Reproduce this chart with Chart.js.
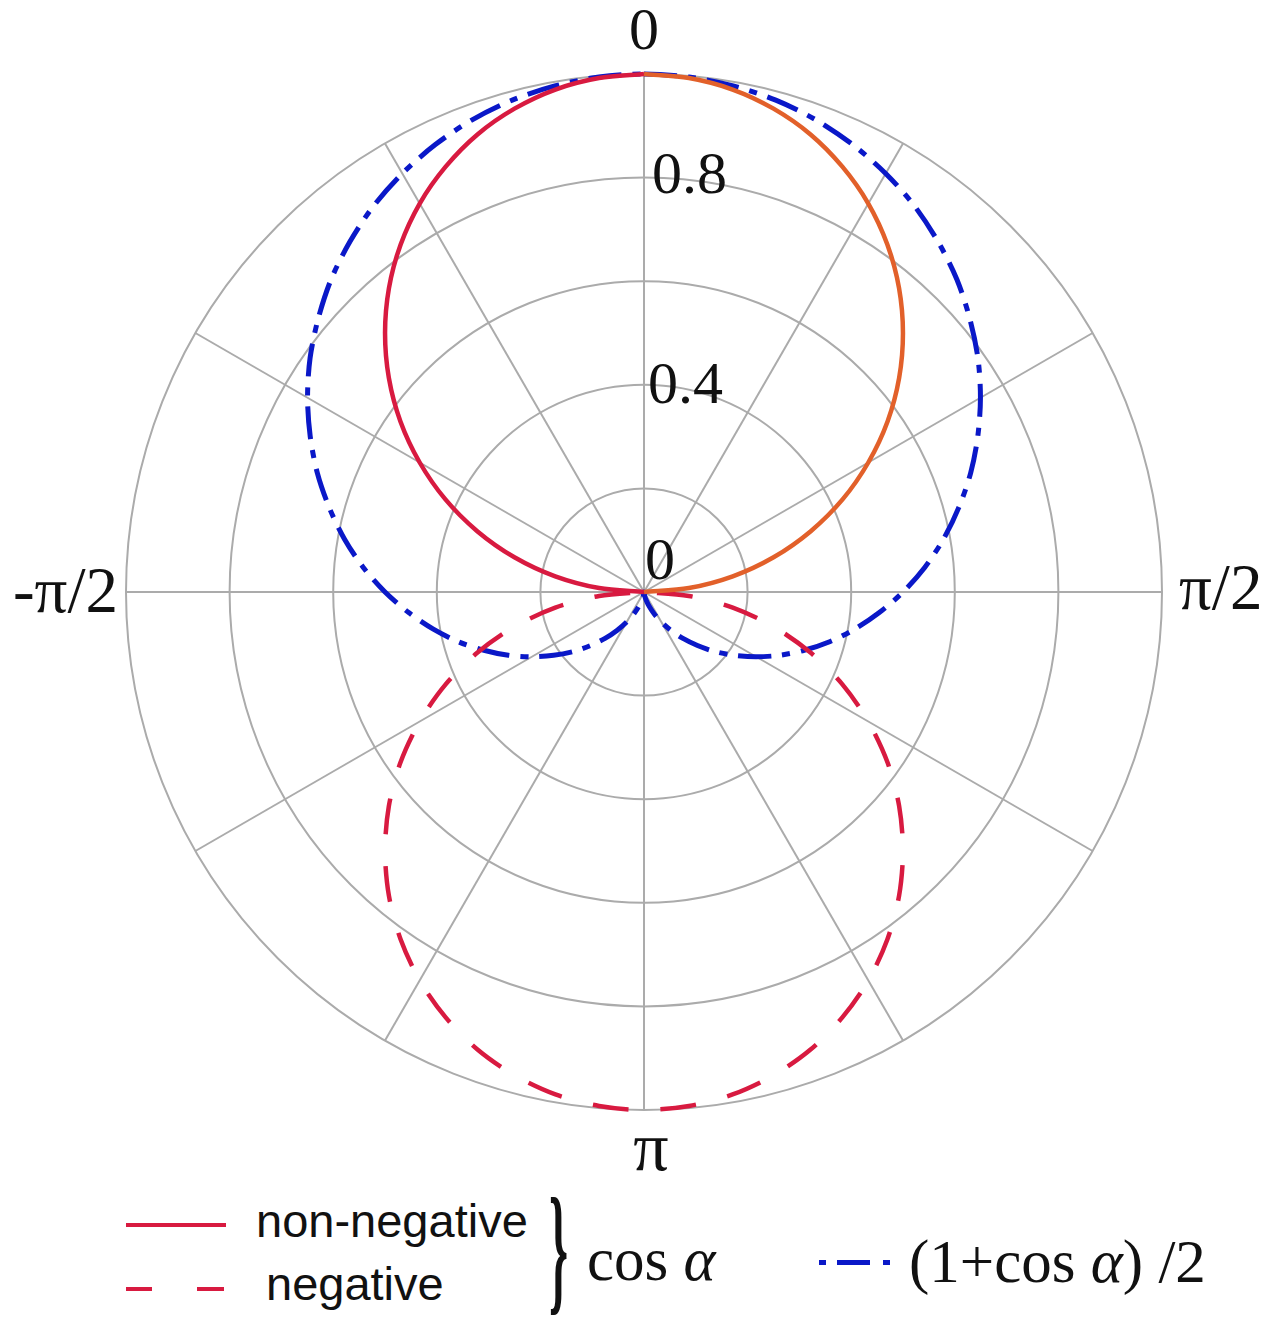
<!DOCTYPE html>
<html>
<head>
<meta charset="utf-8">
<script src="https://cdn.jsdelivr.net/npm/chart.js@4.4.1/dist/chart.umd.min.js"></script>
<style>
  html, body { margin: 0; padding: 0; background: #fff; }
  #wrap { position: relative; width: 1284px; height: 1323px; overflow: hidden; }
  #polar { position: absolute; left: 0; top: 0; }
  .key { position: absolute; white-space: nowrap; line-height: 1; color: #111; }
  .sans { font-family: "Liberation Sans", Arial, sans-serif; font-size: 47px; }
  .serif { font-family: "Liberation Serif", "Times New Roman", serif; font-size: 61px; }
  .swatch { position: absolute; height: 4px; }
  .red { background: #d81a40; }
  .blue { background: #0a18c8; height: 5px; }
</style>
</head>
<body>
<div id="wrap">
  <canvas id="polar" width="1284" height="1180"></canvas>

  <!-- legend -->
  <div class="swatch red" style="left:126px; top:1223px; width:100px;"></div>
  <div class="key sans" style="left:256px; top:1197px;">non-negative</div>
  <div class="swatch red" style="left:126px; top:1287px; width:26px;"></div>
  <div class="swatch red" style="left:197px; top:1287px; width:27px;"></div>
  <div class="key sans" style="left:266px; top:1260px;">negative</div>
  <div class="key serif" style="left:549px; top:1177px; font-size:142px; font-weight:bold; transform:scaleX(0.34); transform-origin:0 0;">}</div>
  <div class="key serif" style="left:587px; top:1229px;">cos <i>α</i></div>
  <div class="swatch blue" style="left:819px; top:1260px; width:7px;"></div>
  <div class="swatch blue" style="left:837px; top:1260px; width:33px;"></div>
  <div class="swatch blue" style="left:883px; top:1260px; width:7px;"></div>
  <div class="key serif" style="left:909px; top:1231px;">(1+cos <i>α</i>) /2</div>
</div>

<script>
// Angle categories in degrees, clockwise from the top
const angleDeg = [
    0, 5, 10, 15, 20, 25, 30, 35, 40, 45, 50, 55,
    60, 65, 70, 75, 80, 85, 90, 95, 100, 105, 110, 115,
    120, 125, 130, 135, 140, 145, 150, 155, 160, 165, 170, 175,
    180, 185, 190, 195, 200, 205, 210, 215, 220, 225, 230, 235,
    240, 245, 250, 255, 260, 265, 270, 275, 280, 285, 290, 295,
    300, 305, 310, 315, 320, 325, 330, 335, 340, 345, 350, 355
];

// cos α, non-negative part, right side (0 .. 90 deg)
const nonNegRight = [1, .996, .985, .966, .940, .906, .866, .819, .766, .707, .643, .574, .500, .423, .342, .259, .174, .087, 0];
// cos α, non-negative part, left side (270 .. 355 deg, then closes at 0)
const nonNegLeft = [0, .087, .174, .259, .342, .423, .500, .574, .643, .707, .766, .819, .866, .906, .940, .966, .985, .996];
// |cos α| where cos α is negative (90 .. 270 deg)
const negative = [0, .087, .174, .259, .342, .423, .500, .574, .643, .707, .766, .819, .866, .906, .940, .966, .985, .996,
    1, .996, .985, .966, .940, .906, .866, .819, .766, .707, .643, .574, .500, .423, .342, .259, .174, .087, 0];
// (1 + cos α) / 2 over the full turn
const halfCos = [
    1, .998, .992, .983, .970, .953, .933, .910, .883, .854, .821, .787,
    .750, .711, .671, .629, .587, .544, .500, .456, .413, .371, .329, .289,
    .250, .213, .179, .146, .117, .090, .067, .047, .030, .017, .008, .002,
    0, .002, .008, .017, .030, .047, .067, .090, .117, .146, .179, .213,
    .250, .289, .329, .371, .413, .456, .500, .544, .587, .629, .671, .711,
    .750, .787, .821, .854, .883, .910, .933, .953, .970, .983, .992, .998
];

// Radial tick text and the angle labels
const radialTicks = [0, 0.4, 0.8];
const radialTickText = ['0', '0.4', '0.8'];
const angleLabelText = { 0: '0', 18: 'π/2', 36: 'π', 54: '-π/2' };

// put a run of values into a full-turn array, gaps elsewhere
function placeAt(start, values) {
    const out = new Array(angleDeg.length).fill(null);
    values.forEach((v, i) => { out[(start + i) % angleDeg.length] = v; });
    return out;
}

const leftSeries = placeAt(54, nonNegLeft);
leftSeries[0] = nonNegRight[0];

// Text on the chart: radial values along the top spoke, angle names outside
const axisText = {
    id: 'axisText',
    afterDraw(chart) {
        const r = chart.scales.r;
        const c = chart.ctx;
        c.save();
        c.fillStyle = '#111';
        c.font = '60px "Liberation Serif", "Times New Roman", serif';

        c.textAlign = 'left';
        c.textBaseline = 'middle';
        const nudge = { '0': [1, -29], '0.4': [4, 2], '0.8': [8, 0] };
        radialTicks.forEach((v, i) => {
            const p = r.getPointPositionForValue(0, v);
            const n = nudge[radialTickText[i]];
            c.fillText(radialTickText[i], p.x + n[0], p.y + n[1]);
        });

        Object.keys(angleLabelText).forEach(k => {
            const idx = Number(k);
            const p = r.getPointPositionForValue(idx, 1);
            const text = angleLabelText[k];
            c.font = (idx === 0 ? '60px' : idx === 36 ? '70px' : '65px') + ' "Liberation Serif", "Times New Roman", serif';
            if (idx === 0) {
                c.textAlign = 'center';
                c.fillText(text, p.x, p.y - 41);
            } else if (idx === 18) {
                c.textAlign = 'left';
                c.fillText(text, p.x + 17, p.y);
            } else if (idx === 36) {
                c.textAlign = 'center';
                c.fillText(text, p.x + 7, p.y + 42);
            } else {
                c.textAlign = 'right';
                c.fillText(text, p.x - 8, p.y + 3);
            }
        });
        c.restore();
    }
};

const gridColor = '#ababab';

new Chart(document.getElementById('polar'), {
    type: 'radar',
    data: {
        labels: angleDeg,
        datasets: [
            {
                label: 'non-negative (right)',
                data: placeAt(0, nonNegRight),
                borderColor: '#e2602a',
                borderWidth: 4.5,
                fill: false,
                clip: 10
            },
            {
                label: 'non-negative',
                data: leftSeries,
                borderColor: '#d81a40',
                borderWidth: 4.5,
                fill: false,
                clip: 10
            },
            {
                label: 'negative',
                data: placeAt(18, negative),
                borderColor: '#d81a40',
                borderWidth: 4.5,
                borderDash: [36, 32],
                borderDashOffset: 55,
                fill: false,
                clip: 10
            },
            {
                label: '(1+cos α) /2',
                data: halfCos,
                borderColor: '#0a18c8',
                borderWidth: 5,
                borderDash: [33, 11, 8, 11],
                fill: false,
                clip: 10
            }
        ]
    },
    options: {
        responsive: false,
        animation: false,
        layout: {
            padding: { left: 126, top: 74, right: 122, bottom: 70 }
        },
        elements: {
            point: { radius: 0, hitRadius: 0, hoverRadius: 0 },
            line: { tension: 0.3 }
        },
        plugins: {
            legend: { display: false },
            tooltip: { enabled: false }
        },
        scales: {
            r: {
                min: 0,
                max: 1,
                ticks: { stepSize: 0.2, display: false },
                grid: { circular: true, color: gridColor, lineWidth: 2 },
                angleLines: {
                    color: gridColor,
                    // spokes every 30 degrees only
                    lineWidth: (ctx) => ctx.index % 6 === 0 ? 2 : 0
                },
                pointLabels: { display: false }
            }
        }
    },
    plugins: [axisText]
});
</script>
</body>
</html>
